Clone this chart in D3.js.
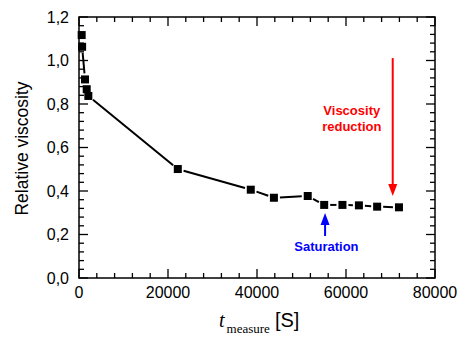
<!DOCTYPE html>
<html>
<head>
<meta charset="utf-8">
<script src="https://cdn.jsdelivr.net/npm/d3@7"></script>
<style>
  body { margin: 0; background: #fff; }
  svg { display: block; }
</style>
</head>
<body>
<div id="chart"></div>
<script>
// measured data: time (s) vs relative viscosity
const tMeasure = [600, 700, 1350, 1730, 2100, 22200, 38600, 43800, 51400, 55100, 59200, 62900, 67000, 71900];
const relViscosity = [1.117, 1.063, 0.913, 0.868, 0.837, 0.501, 0.406, 0.369, 0.377, 0.336, 0.336, 0.334, 0.328, 0.325];

const xTicks = [0, 20000, 40000, 60000, 80000];
const yTicks = [0, 0.2, 0.4, 0.6, 0.8, 1.0, 1.2];

// annotations, in data units
const redArrow = { t: 70500, from: 1.011, to: 0.377 };
const redLabel = { t: 61300, v: [0.749, 0.674], lines: ['Viscosity', 'reduction'] };
const blueArrow = { t: 55300, from: 0.193, to: 0.299 };
const blueLabel = { t: 55600, v: 0.122, text: 'Saturation' };

const width = 460, height = 341;
const margin = { top: 17, right: 25, bottom: 63, left: 79 };
const innerW = width - margin.left - margin.right;
const innerH = height - margin.top - margin.bottom;

const svg = d3.select('#chart').append('svg')
  .attr('width', width)
  .attr('height', height);

const g = svg.append('g').attr('transform', `translate(${margin.left},${margin.top})`);

const x = d3.scaleLinear().domain([0, 80000]).range([0, innerW]);
const y = d3.scaleLinear().domain([0, 1.2]).range([innerH, 0]);

const fmtY = d => d3.format('.1f')(d).replace('.', ',');
const majorLen = 9, minorLen = 5;

// minor ticks
const xMinor = d3.range(0, 80001, 4000).filter(d => d % 20000 !== 0);
const yMinor = d3.range(0, 1.2001, 0.04).filter(d => Math.abs(d / 0.2 - Math.round(d / 0.2)) > 1e-6);

function ticksX(sel, vals, len, atY, dir) {
  sel.selectAll(null).data(vals).enter().append('line')
    .attr('x1', d => x(d)).attr('x2', d => x(d))
    .attr('y1', atY).attr('y2', atY + dir * len)
    .attr('stroke', '#000').attr('stroke-width', 1.3);
}
function ticksY(sel, vals, len, atX, dir) {
  sel.selectAll(null).data(vals).enter().append('line')
    .attr('y1', d => y(d)).attr('y2', d => y(d))
    .attr('x1', atX).attr('x2', atX + dir * len)
    .attr('stroke', '#000').attr('stroke-width', 1.3);
}

const axes = g.append('g');
ticksX(axes, xTicks, majorLen, innerH, -1);
ticksX(axes, xMinor, minorLen, innerH, -1);
ticksX(axes, xTicks, majorLen, 0, 1);
ticksX(axes, xMinor, minorLen, 0, 1);
ticksY(axes, yTicks, majorLen, 0, 1);
ticksY(axes, yMinor, minorLen, 0, 1);
ticksY(axes, yTicks, majorLen, innerW, -1);
ticksY(axes, yMinor, minorLen, innerW, -1);

axes.append('rect')
  .attr('width', innerW).attr('height', innerH)
  .attr('fill', 'none').attr('stroke', '#000').attr('stroke-width', 1.5);

// tick labels
g.append('g').selectAll('text').data(xTicks).enter().append('text')
  .attr('x', d => x(d)).attr('y', innerH + 20)
  .attr('text-anchor', 'middle')
  .attr('font-family', 'Liberation Sans, Arial, sans-serif')
  .attr('font-size', 16)
  .text(d => d);

g.append('g').selectAll('text').data(yTicks).enter().append('text')
  .attr('x', -10).attr('y', d => y(d) + 5.5)
  .attr('text-anchor', 'end')
  .attr('font-family', 'Liberation Sans, Arial, sans-serif')
  .attr('font-size', 16)
  .text(fmtY);

// axis titles
svg.append('text')
  .attr('transform', `translate(28,${margin.top + innerH / 2 + 1}) rotate(-90)`)
  .attr('text-anchor', 'middle')
  .attr('font-family', 'Liberation Sans, Arial, sans-serif')
  .attr('font-size', 17.5)
  .text('Relative viscosity');

const xt = svg.append('text')
  .attr('x', 219).attr('y', 327)
  .attr('text-anchor', 'start');
xt.append('tspan')
  .attr('font-family', 'Liberation Serif, Times New Roman, serif')
  .attr('font-style', 'italic').attr('font-size', 20).text('t');
xt.append('tspan')
  .attr('font-family', 'Liberation Serif, Times New Roman, serif')
  .attr('font-size', 13).attr('dx', 2).attr('dy', 6).text('measure');
xt.append('tspan')
  .attr('font-family', 'Liberation Sans, Arial, sans-serif')
  .attr('font-size', 20).attr('dy', -6).attr('dx', 5).text('[S]');

// data line, with gaps around the symbols
const pts = tMeasure.map((t, i) => [x(t), y(relViscosity[i])]);
const gap = 6;
const segs = d3.pairs(pts).map(([a, b]) => {
  const dx = b[0] - a[0], dy = b[1] - a[1];
  const len = Math.hypot(dx, dy);
  if (len <= 2 * gap + 2) return null;
  const ux = dx / len, uy = dy / len;
  return [a[0] + ux * gap, a[1] + uy * gap, b[0] - ux * gap, b[1] - uy * gap];
}).filter(Boolean);

g.append('g').selectAll('line').data(segs).enter().append('line')
  .attr('x1', d => d[0]).attr('y1', d => d[1])
  .attr('x2', d => d[2]).attr('y2', d => d[3])
  .attr('stroke', '#000').attr('stroke-width', 2);

const sym = 8;
g.append('g').selectAll('rect').data(pts).enter().append('rect')
  .attr('x', d => d[0] - sym / 2).attr('y', d => d[1] - sym / 2)
  .attr('width', sym).attr('height', sym)
  .attr('fill', '#000');

// annotations
function arrow(t, v0, v1, color) {
  const xa = x(t), ya = y(v0), yb = y(v1);
  const dir = yb > ya ? 1 : -1;
  const headL = 12, headW = 4.5;
  g.append('line')
    .attr('x1', xa).attr('x2', xa)
    .attr('y1', ya).attr('y2', yb - dir * headL)
    .attr('stroke', color).attr('stroke-width', 2);
  g.append('path')
    .attr('d', `M${xa - headW},${yb - dir * headL}L${xa + headW},${yb - dir * headL}L${xa},${yb}Z`)
    .attr('fill', color);
}
arrow(redArrow.t, redArrow.from, redArrow.to, '#ff0000');
arrow(blueArrow.t, blueArrow.from, blueArrow.to, '#0000ff');

g.append('g').selectAll('text').data(redLabel.lines).enter().append('text')
  .attr('x', x(redLabel.t)).attr('y', (d, i) => y(redLabel.v[i]))
  .attr('text-anchor', 'middle')
  .attr('font-family', 'Liberation Sans, Arial, sans-serif')
  .attr('font-weight', 'bold').attr('font-size', 13)
  .attr('fill', '#ff0000')
  .text(d => d);

g.append('text')
  .attr('x', x(blueLabel.t)).attr('y', y(blueLabel.v))
  .attr('text-anchor', 'middle')
  .attr('font-family', 'Liberation Sans, Arial, sans-serif')
  .attr('font-weight', 'bold').attr('font-size', 13)
  .attr('fill', '#0000ff')
  .text(blueLabel.text);
</script>
</body>
</html>
